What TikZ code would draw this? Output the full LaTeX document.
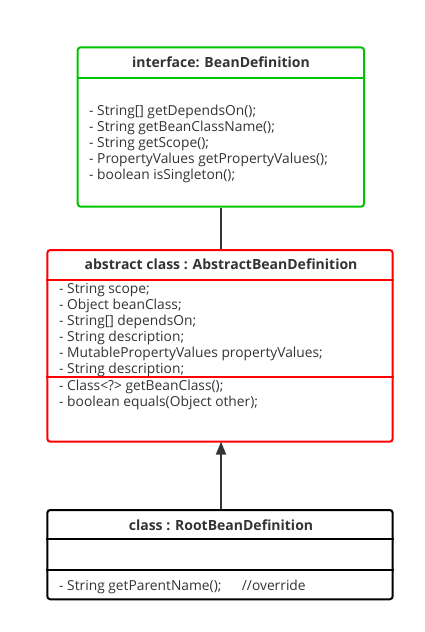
\documentclass[tikz,border=0pt]{standalone}
\usepackage{fontspec}
\setmainfont{Open Sans}
\usetikzlibrary{arrows.meta}
\definecolor{umlgreen}{RGB}{0,196,0}
\definecolor{umlred}{RGB}{255,0,0}
\definecolor{txt}{RGB}{51,51,51}
\tikzset{
  umlbox/.style={draw, line width=2pt, rounded corners=3pt, rectangle, inner sep=0pt},
  divider/.style={line width=2pt},
  title/.style={anchor=base, font=\fontsize{14}{16}\selectfont\bfseries, text=txt, inner sep=0pt},
  member/.style={anchor=base west, font=\fontsize{13.8}{16}\selectfont, text=txt, inner sep=0pt},
  link/.style={line width=2pt, draw=txt}
}
\begin{document}
\begin{tikzpicture}[x=1pt,y=-1pt]
\useasboundingbox (0,0) rectangle (425,632);
% Box 1
\node[umlbox, draw=umlgreen, minimum width=286.3pt, minimum height=159.4pt] (b1) at (220.85,127) {};
\draw[divider, umlgreen] (b1.west |- 0,77.7) -- (b1.east |- 0,77.7);
\node[title] (t1) at (221,67.7) {interface: BeanDefinition};
\node[member] (m11) at (89,115.3) {- String[] getDependsOn();};
\node[member] (m12) at (89,131.3) {- String getBeanClassName();};
\node[member] (m13) at (89,147.3) {- String getScope();};
\node[member] (m14) at (89,163.3) {- PropertyValues getPropertyValues();};
\node[member] (m15) at (89,179.3) {- boolean isSingleton();};
% Box 2
\node[umlbox, draw=umlred, minimum width=345.4pt, minimum height=191.7pt] (b2) at (220,345.85) {};
\draw[divider, umlred] (b2.west |- 0,280) -- (b2.east |- 0,280);
\draw[divider, umlred] (b2.west |- 0,377.3) -- (b2.east |- 0,377.3);
\node[title] (t2) at (221,269) {abstract class : AbstractBeanDefinition};
\node[member] (a1) at (59,293.7) {- String scope;};
\node[member] (a2) at (59,309.7) {- Object beanClass;};
\node[member] (a3) at (59,325.7) {- String[] dependsOn;};
\node[member] (a4) at (59,341.7) {- String description;};
\node[member] (a5) at (59,357.7) {- MutablePropertyValues propertyValues;};
\node[member] (a6) at (59,373.7) {- String description;};
\node[member] (o1) at (59,390.7) {- Class<?> getBeanClass();};
\node[member] (o2) at (59,406.7) {- boolean equals(Object other);};
% Box 3
\node[umlbox, draw=black, minimum width=345.4pt, minimum height=89.3pt] (b3) at (220,554.65) {};
\draw[divider, black] (b3.west |- 0,539.3) -- (b3.east |- 0,539.3);
\draw[divider, black] (b3.west |- 0,570) -- (b3.east |- 0,570);
\node[title] (t3) at (221,530) {class : RootBeanDefinition};
\node[member] (r1) at (59,590) {- String getParentName();};
\node[member] (r2) at (241.7,590) {//override};
% Connectors
\draw[link] (b1.south -| 221,0) -- (b2.north -| 221,0);
\draw[link, -{Triangle[length=13pt,width=10pt]}, shorten >=-1pt] (b3.north -| 221,0) -- (b2.south -| 221,0);
\end{tikzpicture}
\end{document}
